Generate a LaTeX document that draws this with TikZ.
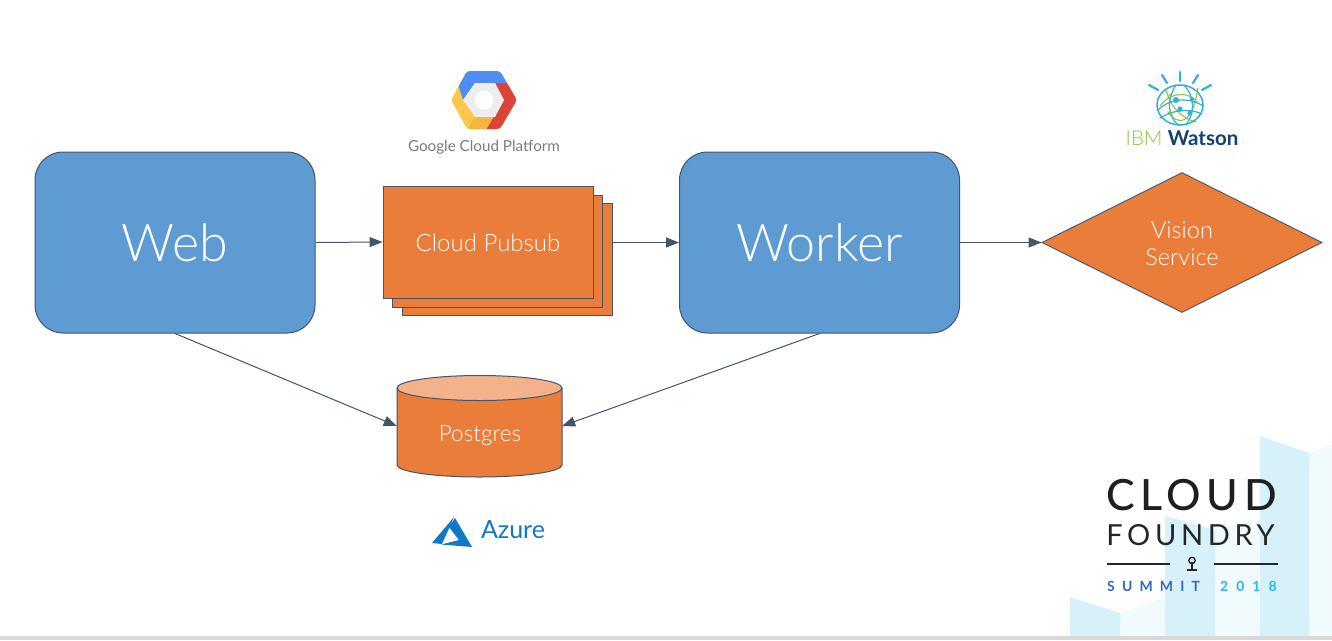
\documentclass[tikz,border=0pt]{standalone}
\usepackage{fontspec}
\setmainfont{Lato}
\newfontfamily\lightf{Lato Light}
\newfontfamily\medf{Lato Medium}
\usetikzlibrary{arrows.meta,shapes.geometric}
\definecolor{boxblue}{HTML}{5E9BD3}
\definecolor{boxorange}{HTML}{EB7D3B}
\definecolor{edgeblue}{HTML}{44546A}
\definecolor{cyltop}{HTML}{F4B28A}
\definecolor{azureblue}{HTML}{1277C8}
\definecolor{towerA}{HTML}{D6F1F9}
\definecolor{towerB}{HTML}{F1FAFD}
\definecolor{gblue}{HTML}{4F8DF2}
\definecolor{gred}{HTML}{DB4437}
\definecolor{gyellow}{HTML}{FDC84A}
\definecolor{gdark}{HTML}{F4B63F}
\definecolor{ggrey}{HTML}{7B7B7B}
\definecolor{wcyan}{HTML}{2FAFDD}
\definecolor{wgreen}{HTML}{8CC63F}
\definecolor{wnavy}{HTML}{12436D}
\definecolor{sumblue}{HTML}{2B6CBE}
\definecolor{sumcyan}{HTML}{2DB8EC}
\tikzset{
  x=1pt,y=1pt,
  big/.style={draw=edgeblue,fill=boxblue,rounded corners=28pt,line width=1pt,minimum width=280pt,minimum height=181pt,inner sep=0pt,text=white,font=\lightf\fontsize{52}{60}\selectfont},
  orangebox/.style={draw=edgeblue,fill=boxorange,line width=.9pt,minimum width=210pt,minimum height=112pt,inner sep=0pt,text=white,font=\lightf\fontsize{24}{27}\selectfont},
  flow/.style={draw=edgeblue,line width=1pt,-{Triangle[length=13pt,width=10pt]}},
  logotext/.style={inner sep=0pt,anchor=center},
}
\begin{document}
\begin{tikzpicture}
\useasboundingbox (0,0) rectangle (1332,-640);
\fill[white] (0,0) rectangle (1332,-640);
% background towers
\fill[towerB] (1309,-453) -- (1332,-445) -- (1332,-636) -- (1309,-636) -- cycle;
\fill[towerB] (1215,-530) -- (1260,-518) -- (1260,-636) -- (1215,-636) -- cycle;
\fill[towerB] (1120,-613) -- (1165,-597) -- (1165,-636) -- (1120,-636) -- cycle;
\fill[towerA] (1260,-436) -- (1309,-453) -- (1309,-636) -- (1260,-636) -- cycle;
\fill[towerA] (1165,-516) -- (1215,-530) -- (1215,-636) -- (1165,-636) -- cycle;
\fill[towerA] (1070,-597) -- (1120,-613) -- (1120,-636) -- (1070,-636) -- cycle;
\fill[black!15] (0,-636) rectangle (1332,-640);
% nodes
\node[big] (web) at (175,-242.5) {\raisebox{-18.5pt}[0pt][0pt]{Web}};
\node[big] (worker) at (819.5,-242.5) {\raisebox{-18.5pt}[0pt][0pt]{Worker}};
\node[orangebox] (pubback) at (507,-259.5) {};
\node[orangebox] (pubmid) at (497.5,-251) {};
\node[orangebox] (pubfront) at (488,-242) {\raisebox{-9pt}[0pt][0pt]{Cloud Pubsub}};
\node[diamond,aspect=2,draw=edgeblue,fill=boxorange,line width=.9pt,minimum width=280pt,minimum height=140pt,inner sep=0pt] (vision) at (1182,-242.5) {};
\node[inner sep=0pt,text=white,align=center,font=\lightf\fontsize{23.5}{27}\selectfont] (visionlabel) at (1182,-244) {Vision\\Service};
% Postgres cylinder
\fill[boxorange] (397,-388) -- (397,-465) arc[start angle=180,end angle=360,x radius=82.5,y radius=12] -- (562,-388) -- cycle;
\draw[edgeblue,line width=1pt] (397,-388) -- (397,-465) arc[start angle=180,end angle=360,x radius=82.5,y radius=12] -- (562,-388);
\draw[edgeblue,fill=cyltop,line width=1pt] (479.5,-388) ellipse (82.5 and 12.5);
\node[minimum width=165pt,minimum height=102pt,inner sep=0pt] (db) at (479.5,-426) {};
\node[text=white,inner sep=0pt,font=\lightf\fontsize{22.5}{24}\selectfont] (dblabel) at (480,-436) {Postgres};
% connectors
\draw[flow] (web.east) -- (pubfront.west);
\draw[flow] (pubback.east |- worker.west) -- (worker.west);
\draw[flow] (worker.east) -- (vision.west);
\draw[flow] (web.south) -- (db.west);
\draw[flow] (worker.south) -- (db.east);
% Google Cloud logo
\begin{scope}
\clip[rounded corners=3pt] (451,-100) -- (467,-71) -- (500,-71) -- (517,-100) -- (500,-129) -- (467,-129) -- cycle;
\fill[gyellow] (445,-80) rectangle (500,-135);
\fill[gdark] (475,-117) -- (495,-117) -- (487,-130) -- (467,-130) -- cycle;
\fill[gblue] (459,-87) -- (450,-70) -- (510,-65) -- (508,-83) -- (475,-83) -- (463,-100) -- cycle;
\fill[gred] (508,-83) -- (520,-100) -- (500,-135) -- (483,-135) -- (504,-100) -- (495,-83) -- cycle;
\fill[black!7] (463,-100) -- (475,-83) -- (495,-83) -- (504,-100) -- (495,-117) -- (475,-117) -- cycle;
\fill[white] (484,-100) circle (9.5);
\end{scope}
\node[logotext,text=ggrey,font=\fontsize{15.2}{18}\selectfont] (gcp) at (484,-147) {Google Cloud Platform};
% Watson logo
\begin{scope}[line cap=round]
\draw[wcyan,line width=2.2pt] (1149,-85) -- (1158,-90);
\draw[wcyan,line width=2.2pt] (1162,-75) -- (1167,-83);
\draw[wcyan,line width=2.2pt] (1180,-72) -- (1180,-81);
\draw[wcyan,line width=2.2pt] (1198,-75) -- (1193,-83);
\draw[wcyan,line width=2.2pt] (1211,-85) -- (1202,-90);
\draw[wgreen,line width=1.1pt] (1160,-106) .. controls (1170,-92) and (1190,-90) .. (1198,-104);
\draw[wgreen,line width=1.1pt] (1168,-112) .. controls (1178,-126) and (1192,-126) .. (1198,-88);
\draw[wgreen,line width=1.1pt] (1166,-90) .. controls (1170,-105) and (1180,-118) .. (1196,-122);
\draw[wcyan,line width=1.5pt] (1180,-105) ellipse (23 and 20);
\draw[wcyan,line width=1.2pt] (1158,-110) .. controls (1170,-98) and (1190,-97) .. (1203,-106);
\draw[wcyan,line width=1.2pt] (1160,-118) .. controls (1172,-110) and (1190,-108) .. (1202,-114);
\draw[wcyan,line width=1.2pt] (1176,-85) .. controls (1166,-100) and (1168,-116) .. (1178,-125);
\draw[wcyan,line width=1.2pt] (1184,-85) .. controls (1196,-98) and (1194,-114) .. (1186,-125);
\fill[wcyan] (1176,-100) circle (3) (1180,-109) circle (2.6) (1190,-113) circle (2.6) (1192,-99) circle (2);
\fill[wgreen] (1170,-95) circle (1.5) (1170,-112) circle (1.5);
\end{scope}
\node[logotext,font=\fontsize{20.5}{22}\selectfont] (watson) at (1182,-138.5) {\textcolor{wgreen}{\lightf IBM} \textcolor{wnavy}{\bfseries Watson}};
% Azure logo
\fill[azureblue] (454,-517) -- (432,-543) -- (442,-544) -- (451,-524) -- cycle;
\fill[azureblue] (455,-518) -- (472,-547) -- (441,-544.5) -- (459,-540) -- (449,-527) -- cycle;
\node[logotext,text=azureblue,font=\fontsize{25}{30}\selectfont] (azure) at (513,-530) {Azure};
% Cloud Foundry logo
\node[logotext,text=black!88,font=\medf\fontsize{43}{44}\addfontfeature{LetterSpace=13}\selectfont] (cloud) at (1191.5,-495) {CLOUD};
\node[logotext,text=black!85,font=\fontsize{29}{31}\addfontfeature{LetterSpace=16}\selectfont] (foundry) at (1190.5,-535.5) {FOUNDRY};
\draw[black!85,line width=2.8pt] (1107,-564) -- (1170,-564);
\draw[black!85,line width=2.8pt] (1214,-564) -- (1278,-564);
\draw[black!85,line width=1.3pt] (1192,-560.5) circle (3.2);
\draw[black!85,line width=1.6pt] (1192,-562) -- (1192,-570);
\draw[black!85,line width=1.2pt] (1187,-570) -- (1197,-570);
\node[logotext,anchor=west,text=sumblue,font=\bfseries\fontsize{14}{15}\addfontfeature{LetterSpace=51}\selectfont] (summit) at (1107,-586) {SUMMIT};
\node[logotext,anchor=west,text=sumcyan,font=\bfseries\fontsize{14}{15}\addfontfeature{LetterSpace=57}\selectfont] (yearlabel) at (1220,-586) {2018};
\end{tikzpicture}
\end{document}
